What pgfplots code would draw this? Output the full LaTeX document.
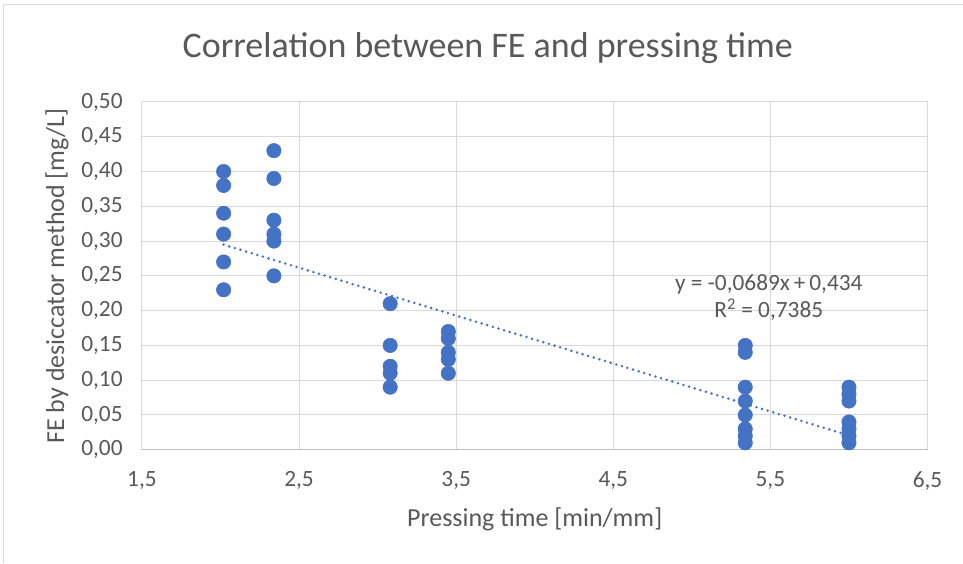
\documentclass[border=0pt]{standalone}
\usepackage{pgfplots}
\pgfplotsset{compat=1.18}
\usepackage{fontspec}
\setmainfont{Carlito}
\definecolor{xlblue}{RGB}{68,114,196}
\definecolor{xlgrid}{RGB}{217,217,217}
\definecolor{xlaxis}{RGB}{191,191,191}
\definecolor{xltext}{RGB}{89,89,89}
\begin{document}
\begin{tikzpicture}[x=0.75pt,y=0.75pt]
% canvas in px of the reference (963 x 563), origin bottom left
\fill[white] (0,0) rectangle (963,563);
\draw[xlgrid, line width=0.75pt] (4,0) -- (4,558) -- (963,558);
\node[text=xltext, font=\fontsize{27}{31}\selectfont] at (488,515) {Correlation between FE and pressing time};
\node[text=xltext, font=\fontsize{19.5}{23}\selectfont] at (535,43) {Pressing time [min/mm]};
\node[text=xltext, font=\fontsize{19.5}{23}\selectfont, rotate=90] at (57,287) {FE by desiccator method [mg/L]};
\begin{axis}[
  at={(106.5pt,84.75pt)}, anchor=south west,
  scale only axis, width=589.5pt, height=261pt,
  xmin=1.5, xmax=6.5, ymin=0, ymax=0.5,
  xtick={1.5,2.5,3.5,4.5,5.5,6.5},
  ytick={0,0.05,0.1,0.15,0.2,0.25,0.3,0.35,0.4,0.45,0.5},
  grid=major,
  major grid style={xlgrid, line width=0.75pt},
  axis lines*=left,
  y axis line style={draw=none},
  x axis line style={xlaxis, line width=0.75pt, -},
  major tick length=0pt,
  tick style={draw=none},
  ticklabel style={text=xltext, font=\fontsize{17.5}{21}\selectfont},
  xticklabel style={yshift=-13pt},
  yticklabel style={xshift=-11pt},
  /pgf/number format/assume math mode=true,
  xticklabel={\pgfmathprintnumber[fixed, fixed zerofill, precision=1, use comma]{\tick}},
  yticklabel={\pgfmathprintnumber[fixed, fixed zerofill, precision=2, use comma]{\tick}},
  clip=false,
]
\addplot[only marks, mark=*, mark size=5.4pt, xlblue, mark options={draw=xlblue, fill=xlblue}] coordinates {
(2.02,0.40) (2.02,0.38) (2.02,0.34) (2.02,0.31) (2.02,0.27) (2.02,0.23)
(2.34,0.43) (2.34,0.39) (2.34,0.33) (2.34,0.31) (2.34,0.30) (2.34,0.25)
(3.08,0.21) (3.08,0.15) (3.08,0.12) (3.08,0.11) (3.08,0.09)
(3.45,0.17) (3.45,0.16) (3.45,0.14) (3.45,0.13) (3.45,0.11)
(5.34,0.15) (5.34,0.14) (5.34,0.09) (5.34,0.07) (5.34,0.05) (5.34,0.03) (5.34,0.02) (5.34,0.01)
(6.00,0.09) (6.00,0.08) (6.00,0.07) (6.00,0.04) (6.00,0.03) (6.00,0.02) (6.00,0.01)
};
% linear trendline y = -0.0689x + 0.434
\addplot[xlblue, line width=2.1pt, line cap=round, dash pattern=on 0pt off 4.4pt] coordinates {
(2.02,0.2948) (6.00,0.0206)
};
\node[text=xltext, font=\fontsize{17.5}{21}\selectfont] at (axis cs:5.49,0.237) {y = -0,0689x\,+\,0,434};
\node[text=xltext, font=\fontsize{17.5}{21}\selectfont] at (axis cs:5.49,0.201) {R\textsuperscript{2} = 0,7385};
\end{axis}
\end{tikzpicture}
\end{document}
